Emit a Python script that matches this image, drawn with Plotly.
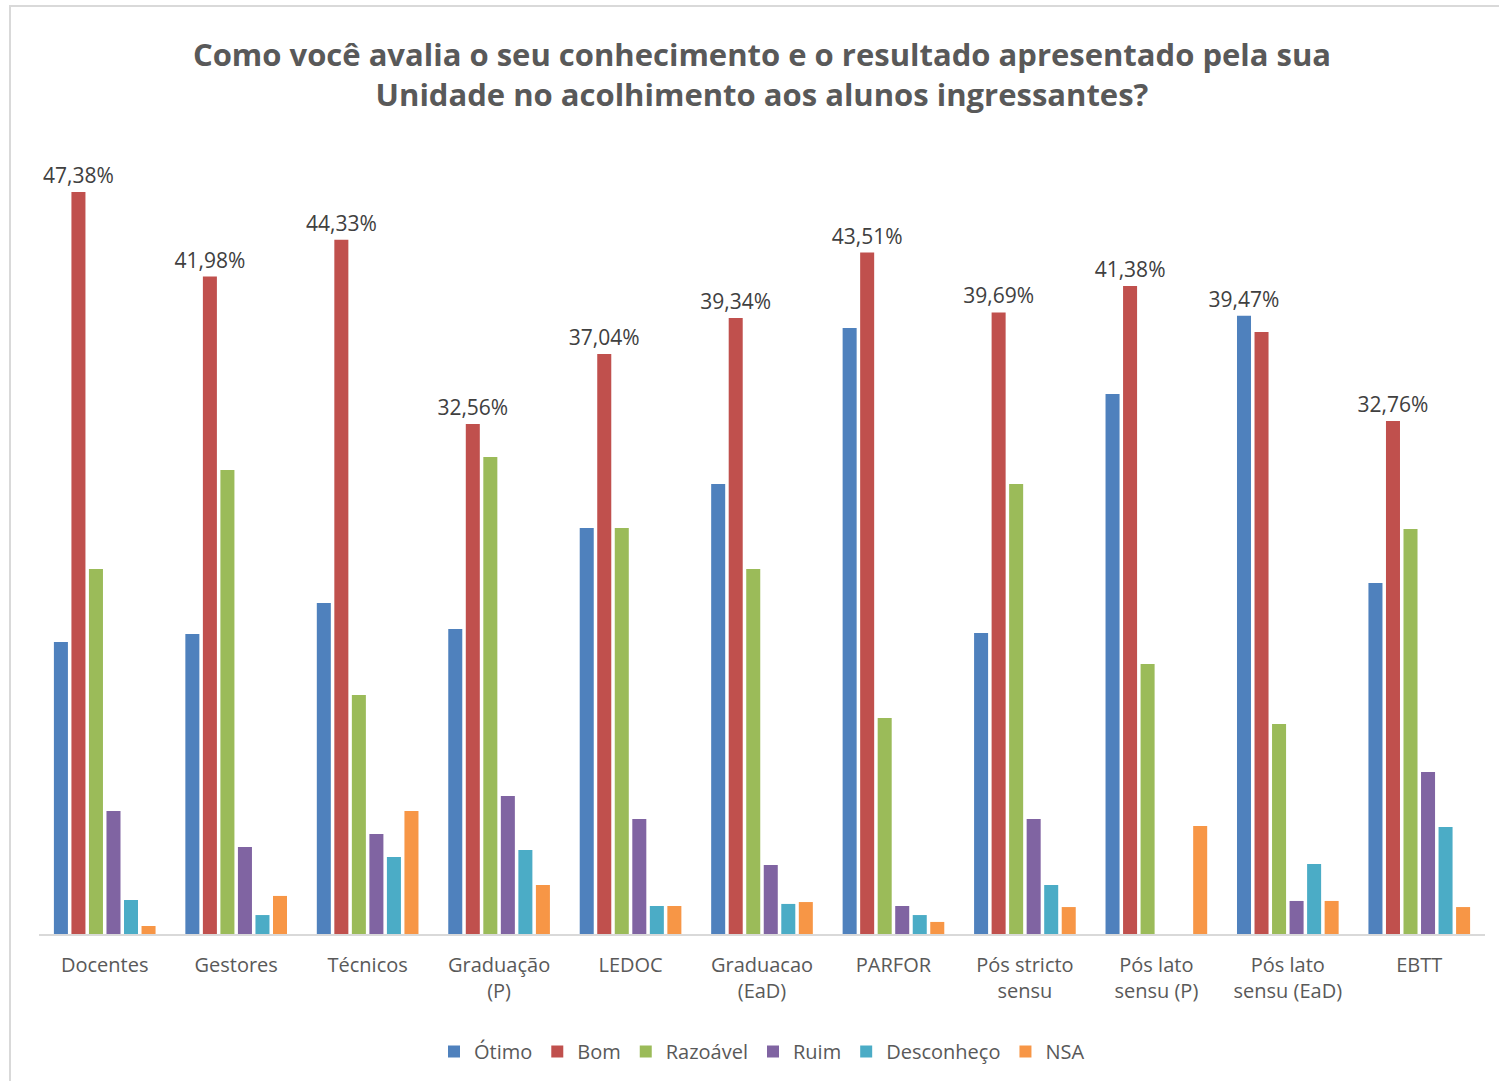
import plotly.graph_objects as go

categorias = ["Docentes", "Gestores", "Técnicos", "Graduação<br>(P)", "LEDOC",
              "Graduacao<br>(EaD)", "PARFOR", "Pós stricto<br>sensu",
              "Pós lato<br>sensu (P)", "Pós lato<br>sensu (EaD)", "EBTT"]

otimo      = [18.65, 19.16, 21.14, 19.48, 25.93, 28.74, 38.70, 19.22, 34.48, 39.47, 22.41]
bom        = [47.38, 41.98, 44.33, 32.56, 37.04, 39.34, 43.51, 39.69, 41.38, 38.44, 32.76]
razoavel   = [23.31, 29.63, 15.26, 30.46, 25.93, 23.31, 13.79, 28.74, 17.24, 13.41, 25.86]
ruim       = [7.85, 5.56, 6.39, 8.81, 7.34, 4.41, 1.79, 7.34, 0.0, 2.11, 10.34]
desconheco = [2.17, 1.21, 4.92, 5.36, 1.79, 1.92, 1.21, 3.13, 0.0, 4.47, 6.83]
nsa        = [0.51, 2.43, 7.85, 3.13, 1.79, 2.04, 0.77, 1.72, 6.90, 2.11, 1.72]

series = [
    ("Ótimo", otimo, "#4F81BD"),
    ("Bom", bom, "#C0504D"),
    ("Razoável", razoavel, "#9BBB59"),
    ("Ruim", ruim, "#8064A2"),
    ("Desconheço", desconheco, "#4BACC6"),
    ("NSA", nsa, "#F79646"),
]

FONT = "Open Sans"
W, H = 1499, 1081
ML, MR, MT, MB = 39, 14, 150, 147

# rótulo só no maior valor de cada categoria
maximos = [max(s[1][i] for s in series) for i in range(len(categorias))]

fig = go.Figure()
for nome, vals, cor in series:
    textos = [(f"{v:.2f}".replace(".", ",") + "%") if v == maximos[i] else ""
              for i, v in enumerate(vals)]
    fig.add_trace(go.Bar(
        name=nome, x=categorias, y=vals, marker_color=cor,
        marker_line_width=0,
        text=textos, textposition="outside", constraintext="none",
        textfont=dict(family=FONT, size=21, color="#404040"),
        cliponaxis=False,
    ))

fig.update_layout(
    barmode="group", bargap=0.2, bargroupgap=0.2,
    width=W, height=H,
    margin=dict(l=ML, r=MR, t=MT, b=MB, autoexpand=False),
    paper_bgcolor="white", plot_bgcolor="white",
    font=dict(family=FONT, color="#595959"),
    title=dict(
        text="Como você avalia o seu conhecimento e o resultado apresentado pela sua<br>Unidade no acolhimento aos alunos ingressantes?",
        x=762 / W, xanchor="center", y=1 - 66 / H, yanchor="top",
        font=dict(family=FONT, size=31, color="#595959", weight="bold"),
    ),
    legend=dict(orientation="h", x=0.5, xanchor="center", y=-98 / (H - MT - MB), yanchor="top",
                font=dict(family=FONT, size=20, color="#595959"),
                itemwidth=30, traceorder="normal"),
    showlegend=True,
)
fig.update_xaxes(showline=True, linecolor="#D9D9D9", linewidth=2, ticks="",
                 tickfont=dict(family=FONT, size=20, color="#595959"),
                 ticklabelstandoff=12, showgrid=False, automargin=False)
fig.update_yaxes(range=[0, 50.06], visible=False, showgrid=False)

# moldura do gráfico
pw, ph = W - ML - MR, H - MT - MB
fig.add_shape(type="rect", xref="paper", yref="paper",
              x0=(10 - ML) / pw, x1=(W + 20 - ML) / pw,
              y0=-(H + 20 - MT - ph) / ph, y1=(H - 6 - MB) / ph,
              line=dict(color="#D9D9D9", width=2), fillcolor="rgba(0,0,0,0)", layer="below")

fig.write_html("out.html", config={"displayModeBar": False},
               post_script="document.body.style.margin='0';")
